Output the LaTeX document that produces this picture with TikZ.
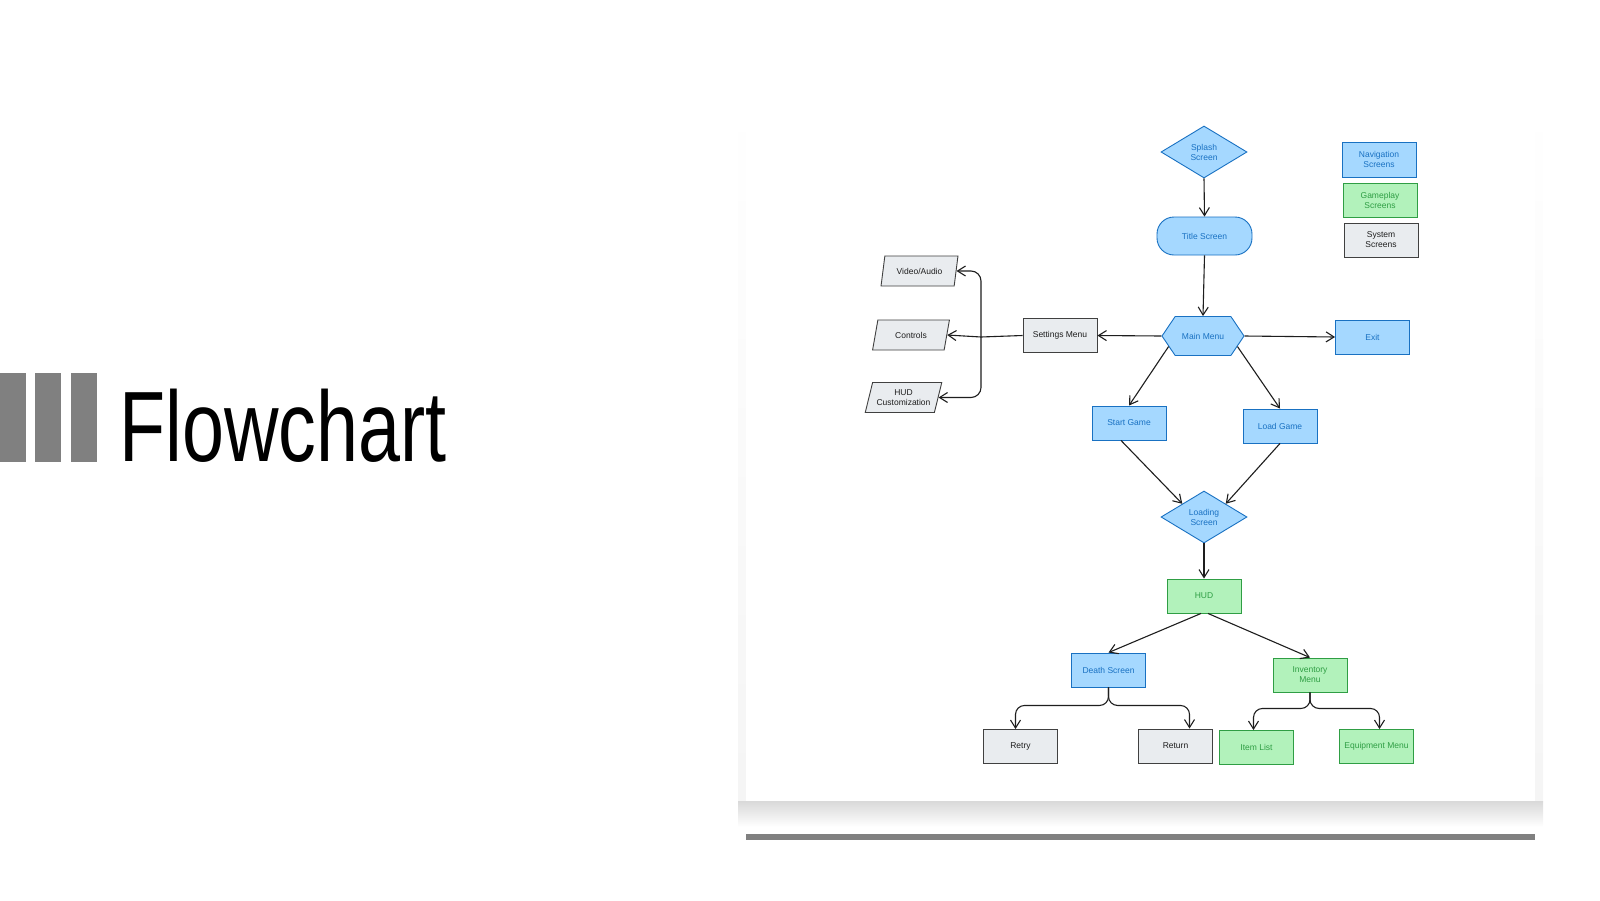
\documentclass[tikz,border=0pt]{standalone}
\usepackage{fontspec}
\setmainfont{Liberation Sans}
\newfontfamily\headfont{Liberation Sans}
\usetikzlibrary{arrows.meta, shapes.geometric, shapes.symbols, calc}

\definecolor{navfill}{HTML}{A5D8FF}
\definecolor{navline}{HTML}{1971C2}
\definecolor{playfill}{HTML}{B2F2BB}
\definecolor{playline}{HTML}{2F9E44}
\definecolor{sysfill}{HTML}{E9ECEF}
\definecolor{sysline}{HTML}{1E1E1E}
\definecolor{barcolor}{HTML}{808080}

\begin{document}
\begin{tikzpicture}[x=1pt, y=-1pt,
		screen/.style={rectangle, line width=0.9pt, inner sep=0pt, minimum width=74pt, minimum height=34pt, align=center, font=\fontsize{8.5}{10}\selectfont},
		nav/.style={screen, draw=navline, fill=navfill, text=navline},
		play/.style={screen, draw=playline, fill=playfill, text=playline},
		sys/.style={screen, draw=sysline!85, fill=sysfill, text=sysline},
		optbox/.style={sys, trapezium, trapezium left angle=68, trapezium right angle=112, trapezium stretches=true, minimum width=77pt, minimum height=30pt},
		decision/.style={nav, diamond, aspect=1.65, minimum width=86pt, minimum height=52pt},
		link/.style={draw=sysline, line width=1.1pt, -{Straight Barb[length=8pt, width=10pt]}}
		]
		\useasboundingbox (0,0) rectangle (1600,900);

		% slide title
		\foreach \x in {0,35,71}
			\fill[barcolor] (\x,373) rectangle ++(25.5,89);
		\node[anchor=base west, inner sep=0pt, font=\headfont\fontsize{100}{100}\selectfont] (heading) at (119,461) {\scalebox{0.755}[1]{Flowchart}};

		% picture card
		\shade[top color=white, bottom color=black!4] (738,97) rectangle (1543,801);
		\shade[top color=black!15, bottom color=white] (738,801) rectangle (1543,827);
		\fill[white] (746,97) rectangle (1535,801);
		\fill[barcolor] (746,834) rectangle (1535,840);

		% screens
		\node[decision] (splash) at (1204,152) {Splash\\Screen};
		\node[nav, rounded corners=17pt, minimum width=95pt, minimum height=38pt] (title) at (1204.5,236) {Title Screen};
		\node[nav, signal, signal to=west and east, signal pointer angle=112, minimum width=82pt, minimum height=39pt] (main) at (1203,336) {Main Menu};
		\node[nav] (exit) at (1372.5,337) {Exit};
		\node[sys] (settings) at (1060,335.5) {Settings Menu};
		\node[optbox] (video) at (919.5,271) {Video/Audio};
		\node[optbox] (controls) at (911,335) {Controls};
		\node[optbox] (hudcustom) at (903.5,397.5) {HUD\\Customization};
		\node[nav] (start) at (1129,423) {Start Game};
		\node[nav] (load) at (1280,426) {Load Game};
		\node[decision] (loading) at (1204,517) {Loading\\Screen};
		\node[play] (hud) at (1204,596) {HUD};
		\node[nav] (death) at (1108.5,670) {Death Screen};
		\node[play] (inventory) at (1310,675) {Inventory\\Menu};
		\node[sys] (retry) at (1020.5,746.5) {Retry};
		\node[sys] (return) at (1175.5,746) {Return};
		\node[play] (items) at (1256.5,747.5) {Item List};
		\node[play] (equipment) at (1376.5,746.5) {Equipment Menu};

		% key
		\node[nav, minimum height=35pt] (navkey) at (1379,159.5) {Navigation\\Screens};
		\node[play] (playkey) at (1380,200) {Gameplay\\Screens};
		\node[sys] (syskey) at (1381,240) {System\\Screens};

		% flow
		\draw[link] (splash.south) -- (title.north);
		\draw[link] (title.south) -- (main.north);
		\draw[link] (main.west) -- (settings.east);
		\draw[link] (main.east) -- (exit.west);
		\draw[link] (main.197) -- (start.north);
		\draw[link] (main.-17) -- (load.north);
		\draw[link] ($(start.south)+(-8,0)$) -- (loading.north west);
		\draw[link] (load.south) -- (loading.north east);
		\draw[link] (loading.south) -- (hud.north);
		\draw[link] ($(hud.south)+(-3,0)$) -- (death.north);
		\draw[link] ($(hud.south)+(4,0)$) -- (inventory.north);
		\draw[link, rounded corners=9pt] (death.south) -- ++(0,18) -| ($(retry.north)+(-5,0)$);
		\draw[link, rounded corners=9pt] (death.south) -- ++(0,18) -| ($(return.north)+(14,0)$);
		\draw[link, rounded corners=9pt] (inventory.south) -- ++(0,16) -| ($(items.north)+(-3,0)$);
		\draw[link, rounded corners=9pt] (inventory.south) -- ++(0,16) -| ($(equipment.north)+(3,0)$);

		% settings fan-out
		\coordinate (fork) at (981,337);
		\draw[link] (settings.west) -- (fork) -- (controls.east);
		\draw[link, rounded corners=10pt] (fork) -- (fork |- video.east) -- (video.east);
		\draw[link, rounded corners=10pt] (fork) -- (fork |- hudcustom.east) -- (hudcustom.east);
	\end{tikzpicture}
\end{document}
